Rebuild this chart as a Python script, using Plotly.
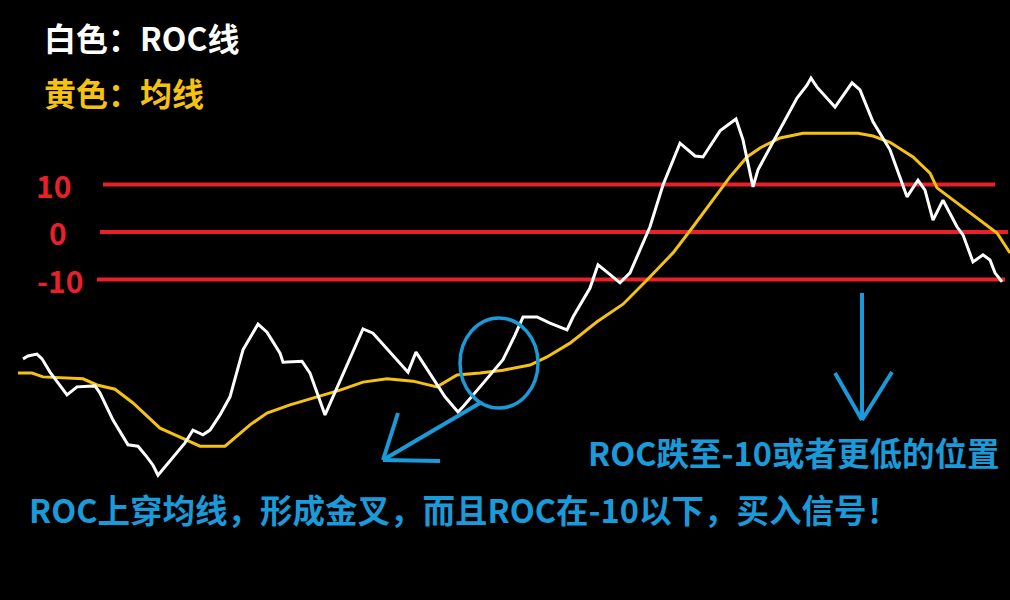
import plotly.graph_objects as go

# ROC line (white)
roc_t = [23, 28, 37, 42, 50, 67, 77, 95, 100, 113, 128, 138, 147, 153, 158, 173, 185, 193,
         203, 210, 220, 230, 243, 258, 267, 280, 283, 302, 310, 325, 340, 363, 373, 408, 416,
         433, 445, 458, 463, 480, 503, 515, 523, 537, 550, 567, 573, 590, 598, 608, 620, 630,
         640, 650, 663, 680, 695, 703, 720, 736, 743, 753, 758, 780, 797, 807, 811, 817, 835,
         852, 860, 873, 890, 907, 918, 925, 933, 943, 957, 963, 973, 983, 990, 995, 1002]
roc_values = [-26.7, -26.1, -25.7, -26.7, -29.5, -34.3, -32.6, -32.4, -33.9, -39.6, -44.8,
              -45.1, -47.4, -49.1, -51.2, -47.4, -44.4, -41.7, -42.7, -41.7, -38.5, -34.7,
              -24.8, -19.4, -21.1, -25.5, -27.4, -27.2, -29.7, -38.5, -31.5, -20.4, -21.3,
              -29.5, -25.3, -30.7, -34.7, -37.9, -36.8, -32.6, -26.9, -21.7, -17.9, -17.9,
              -19.2, -20.6, -17.9, -11.8, -6.9, -8.6, -10.7, -8.6, -3.8, 1.1, 9.9, 18.7, 16.0,
              15.8, 21.3, 23.8, 19.4, 9.5, 13.1, 21.5, 28.2, 30.9, 32.4, 30.5, 26.3, 31.4,
              29.9, 23.2, 17.3, 7.4, 10.9, 8.8, 2.5, 6.7, 1.1, -0.6, -6.3, -4.8, -5.9, -8.6,
              -10.5]

# moving average (yellow)
ma_t = [18, 32, 43, 83, 97, 115, 133, 160, 180, 200, 225, 250, 267, 290, 317, 340, 363, 387,
        413, 437, 457, 480, 503, 530, 547, 570, 597, 623, 647, 673, 693, 713, 730, 747, 760,
        780, 803, 823, 858, 873, 890, 913, 930, 937, 957, 980, 997, 1010]
ma_values = [-29.7, -29.7, -30.5, -30.9, -32.2, -33.1, -36.0, -41.3, -43.2, -45.1, -45.1,
             -40.6, -38.1, -36.4, -34.7, -33.3, -31.6, -30.9, -31.4, -32.6, -30.1, -29.7,
             -29.1, -28.0, -26.3, -23.4, -18.9, -15.2, -10.1, -4.4, 1.1, 6.7, 11.6, 15.8,
             17.7, 19.8, 20.8, 20.8, 20.8, 20.2, 18.9, 15.8, 12.4, 9.3, 6.1, 2.5, -0.2, -4.4]

levels = [10, 0, -10]
level_labels = ["10", "0", "-10"]

RED = "#e8202a"
BLUE = "#1a9ad8"
YELLOW = "#f5c211"


def paper(px, py):
    # pixel position in the 1010x600 canvas -> paper coordinates
    return px / 1010, 1 - py / 600


fig = go.Figure()

fig.add_trace(go.Scatter(x=ma_t, y=ma_values, mode="lines",
                         line=dict(color=YELLOW, width=3)))
fig.add_trace(go.Scatter(x=roc_t, y=roc_values, mode="lines",
                         line=dict(color="white", width=3)))

# horizontal reference lines at 10 / 0 / -10
line_ends = [(103, 995), (100, 1008), (97, 1005)]
for lv, (x0, x1) in zip(levels, line_ends):
    fig.add_shape(type="line", x0=x0, x1=x1, y0=lv, y1=lv, xref="x", yref="y",
                  line=dict(color=RED, width=4), layer="below")

label_x = [53, 58, 60]
for lv, txt, lx in zip(levels, level_labels, label_x):
    fig.add_annotation(x=lx, y=lv, xref="x", yref="y", text="<b>%s</b>" % txt,
                       showarrow=False, font=dict(size=30, color=RED))

# legend-ish titles and notes
texts = [
    ("白色：ROC线", 42, 37, "white", 32),
    ("黄色：均线", 42, 92, YELLOW, 32),
    ("ROC跌至-10或者更低的位置", 586, 451, BLUE, 32.5),
    ("ROC上穿均线，形成金叉，而且ROC在-10以下，买入信号！", 27, 508, BLUE, 32.5),
]
for txt, px, py, col, size in texts:
    x, y = paper(px, py)
    fig.add_annotation(x=x, y=y, xref="paper", yref="paper", text="<b>%s</b>" % txt,
                       xanchor="left", yanchor="middle", showarrow=False,
                       font=dict(size=size, color=col, family="Noto Sans CJK SC"))

# circle around the golden cross
cx0, cy0 = paper(460, 318)
cx1, cy1 = paper(538, 408)
fig.add_shape(type="circle", xref="paper", yref="paper", x0=cx0, y0=cy1, x1=cx1, y1=cy0,
              line=dict(color=BLUE, width=3.5))

# hand-drawn arrows
segments = [
    ((480, 403), (383, 460)), ((383, 460), (398, 413)), ((383, 460), (440, 461)),
    ((862, 293), (862, 420)), ((862, 420), (835, 373)), ((862, 420), (892, 372)),
]
for (ax, ay), (bx, by) in segments:
    x0, y0 = paper(ax, ay)
    x1, y1 = paper(bx, by)
    fig.add_shape(type="line", xref="paper", yref="paper", x0=x0, y0=y0, x1=x1, y1=y1,
                  line=dict(color=BLUE, width=4))

# y mapping: value 0 at pixel 232, 4.75 px per unit
fig.update_layout(
    width=1010, height=600,
    margin=dict(l=0, r=0, t=0, b=0),
    paper_bgcolor="black", plot_bgcolor="black",
    showlegend=False,
    font=dict(family="Noto Sans CJK SC"),
    xaxis=dict(range=[0, 1010], visible=False),
    yaxis=dict(range=[(232 - 600) / 4.75, 232 / 4.75], visible=False),
)

fig.write_html("out.html", config={"displayModeBar": False},
               post_script="document.body.style.margin='0';document.body.style.background='black';")
